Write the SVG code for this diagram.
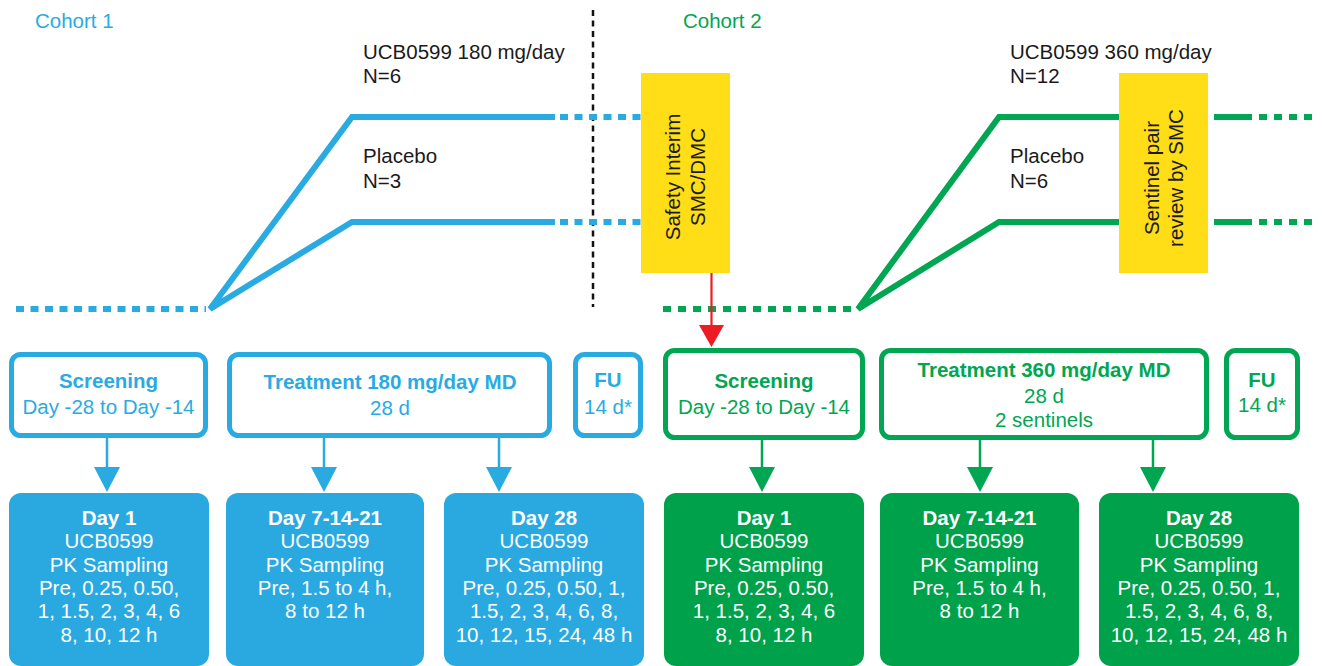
<svg xmlns="http://www.w3.org/2000/svg" width="1322" height="666" viewBox="0 0 1322 666">
<style>
text{font-family:"Liberation Sans",Arial,sans-serif;font-size:20.5px}
.b{font-weight:bold}
.c{text-anchor:middle}
.tb{fill:#29ABE2}
.tg{fill:#00A651}
.tk{fill:#1a1a1a}
.tw{fill:#ffffff}
.sb{fill:none;stroke:#29ABE2;stroke-width:6}
.sg{fill:none;stroke:#00A651;stroke-width:6}
.db{fill:none;stroke:#29ABE2;stroke-width:6;stroke-dasharray:8 6.5}
.dg{fill:none;stroke:#00A651;stroke-width:6;stroke-dasharray:8 7}
.ob{fill:#fff;stroke:#29ABE2;stroke-width:5}
.og{fill:#fff;stroke:#00A651;stroke-width:5}
.fb{fill:#29A9E0}
.fg{fill:#00A14B}
.y{fill:#FFDD17}
</style>

<g id="labels">
<text class="tb" x="35" y="28">Cohort 1</text>
<text class="tg" x="683" y="28">Cohort 2</text>
<text class="tk" x="363" y="59">UCB0599 180 mg/day</text>
<text class="tk" x="363" y="83">N=6</text>
<text class="tk" x="363" y="163">Placebo</text>
<text class="tk" x="363" y="188">N=3</text>
<text class="tk" x="1010" y="59">UCB0599 360 mg/day</text>
<text class="tk" x="1010" y="83">N=12</text>
<text class="tk" x="1010" y="163">Placebo</text>
<text class="tk" x="1010" y="188">N=6</text>
</g>

<g id="connectors">
<line x1="593" y1="10" x2="593" y2="307" stroke="#111" stroke-width="2.5" stroke-dasharray="6 4.5"/>
<line class="db" x1="16" y1="309" x2="206" y2="309"/>
<polyline class="sb" points="555,117 352,117 210,309 352,222 555,222"/>
<line class="db" x1="560" y1="117" x2="643" y2="117"/>
<line class="db" x1="560" y1="222" x2="643" y2="222"/>
<line class="dg" x1="663" y1="309" x2="852" y2="309"/>
<polyline class="sg" points="1119,117 999,117 858,309 999,222 1119,222"/>
<line class="sg" x1="1214" y1="117" x2="1252" y2="117"/>
<line class="sg" x1="1214" y1="222" x2="1252" y2="222"/>
<line class="dg" x1="1259" y1="117" x2="1318" y2="117"/>
<line class="dg" x1="1259" y1="222" x2="1318" y2="222"/>
<line x1="711.5" y1="273" x2="711.5" y2="327" stroke="#ED1C24" stroke-width="2.2"/>
<polygon points="699,325 724,325 711.5,347" fill="#ED1C24"/>
<g stroke="#29ABE2" stroke-width="2.5">
<line x1="107" y1="438" x2="107" y2="469"/>
<line x1="324" y1="438" x2="324" y2="469"/>
<line x1="499" y1="438" x2="499" y2="469"/>
</g>
<g fill="#29ABE2">
<polygon points="94,467 120,467 107,492"/>
<polygon points="311,467 337,467 324,492"/>
<polygon points="486,467 512,467 499,492"/>
</g>
<g stroke="#00A651" stroke-width="2.5">
<line x1="762" y1="440" x2="762" y2="469"/>
<line x1="980" y1="440" x2="980" y2="469"/>
<line x1="1153" y1="440" x2="1153" y2="469"/>
</g>
<g fill="#00A651">
<polygon points="749,467 775,467 762,492"/>
<polygon points="967,467 993,467 980,492"/>
<polygon points="1140,467 1166,467 1153,492"/>
</g>
</g>

<g id="safety-interim">
<rect class="y" x="641" y="73" width="89" height="200"/>
<text class="tk c" transform="translate(680,177) rotate(-90)">Safety Interim</text>
<text class="tk c" transform="translate(705,177) rotate(-90)">SMC/DMC</text>
</g>

<g id="sentinel-review">
<rect class="y" x="1119" y="73" width="89" height="200"/>
<text class="tk c" transform="translate(1159,178) rotate(-90)">Sentinel pair</text>
<text class="tk c" transform="translate(1183,178) rotate(-90)">review by SMC</text>
</g>

<g id="c1-screening">
<rect class="ob" x="11.5" y="354.5" width="194" height="81" rx="9"/>
<text class="tb b c" x="108.5" y="388">Screening</text>
<text class="tb c" x="108.5" y="414">Day -28 to Day -14</text>
</g>
<g id="c1-treatment">
<rect class="ob" x="229.5" y="354.5" width="320" height="81" rx="9"/>
<text class="tb b c" x="390" y="389">Treatment 180 mg/day MD</text>
<text class="tb c" x="390" y="415">28 d</text>
</g>
<g id="c1-fu">
<rect class="ob" x="575.5" y="354.5" width="65" height="81" rx="9"/>
<text class="tb b c" x="608" y="387">FU</text>
<text class="tb c" x="608" y="414">14 d*</text>
</g>

<g id="c2-screening">
<rect class="og" x="665.5" y="350.5" width="197" height="87" rx="9"/>
<text class="tg b c" x="764" y="388">Screening</text>
<text class="tg c" x="764" y="414">Day -28 to Day -14</text>
</g>
<g id="c2-treatment">
<rect class="og" x="881.5" y="350.5" width="325" height="87" rx="9"/>
<text class="tg b c" x="1044" y="377">Treatment 360 mg/day MD</text>
<text class="tg c" x="1044" y="403">28 d</text>
<text class="tg c" x="1044" y="427">2 sentinels</text>
</g>
<g id="c2-fu">
<rect class="og" x="1226.5" y="350.5" width="71" height="87" rx="9"/>
<text class="tg b c" x="1262" y="387">FU</text>
<text class="tg c" x="1262" y="412">14 d*</text>
</g>

<g id="c1-day1">
<rect class="fb" x="9" y="493" width="200" height="173" rx="12"/>
<text class="tw b c" x="109" y="525">Day 1</text>
<text class="tw c" x="109" y="548">UCB0599</text>
<text class="tw c" x="109" y="572">PK Sampling</text>
<text class="tw c" x="109" y="595">Pre, 0.25, 0.50,</text>
<text class="tw c" x="109" y="618">1, 1.5, 2, 3, 4, 6</text>
<text class="tw c" x="109" y="642">8, 10, 12 h</text>
</g>
<g id="c1-day7">
<rect class="fb" x="226" y="493" width="198" height="173" rx="12"/>
<text class="tw b c" x="325" y="525">Day 7-14-21</text>
<text class="tw c" x="325" y="548">UCB0599</text>
<text class="tw c" x="325" y="572">PK Sampling</text>
<text class="tw c" x="325" y="595">Pre, 1.5 to 4 h,</text>
<text class="tw c" x="325" y="618">8 to 12 h</text>
</g>
<g id="c1-day28">
<rect class="fb" x="444" y="493" width="200" height="173" rx="12"/>
<text class="tw b c" x="544" y="525">Day 28</text>
<text class="tw c" x="544" y="548">UCB0599</text>
<text class="tw c" x="544" y="572">PK Sampling</text>
<text class="tw c" x="544" y="595">Pre, 0.25, 0.50, 1,</text>
<text class="tw c" x="544" y="618">1.5, 2, 3, 4, 6, 8,</text>
<text class="tw c" x="544" y="642">10, 12, 15, 24, 48 h</text>
</g>

<g id="c2-day1">
<rect class="fg" x="664" y="493" width="200" height="173" rx="12"/>
<text class="tw b c" x="764" y="525">Day 1</text>
<text class="tw c" x="764" y="548">UCB0599</text>
<text class="tw c" x="764" y="572">PK Sampling</text>
<text class="tw c" x="764" y="595">Pre, 0.25, 0.50,</text>
<text class="tw c" x="764" y="618">1, 1.5, 2, 3, 4, 6</text>
<text class="tw c" x="764" y="642">8, 10, 12 h</text>
</g>
<g id="c2-day7">
<rect class="fg" x="880" y="493" width="199" height="173" rx="12"/>
<text class="tw b c" x="979.5" y="525">Day 7-14-21</text>
<text class="tw c" x="979.5" y="548">UCB0599</text>
<text class="tw c" x="979.5" y="572">PK Sampling</text>
<text class="tw c" x="979.5" y="595">Pre, 1.5 to 4 h,</text>
<text class="tw c" x="979.5" y="618">8 to 12 h</text>
</g>
<g id="c2-day28">
<rect class="fg" x="1099" y="493" width="200" height="173" rx="12"/>
<text class="tw b c" x="1199" y="525">Day 28</text>
<text class="tw c" x="1199" y="548">UCB0599</text>
<text class="tw c" x="1199" y="572">PK Sampling</text>
<text class="tw c" x="1199" y="595">Pre, 0.25, 0.50, 1,</text>
<text class="tw c" x="1199" y="618">1.5, 2, 3, 4, 6, 8,</text>
<text class="tw c" x="1199" y="642">10, 12, 15, 24, 48 h</text>
</g>
</svg>
